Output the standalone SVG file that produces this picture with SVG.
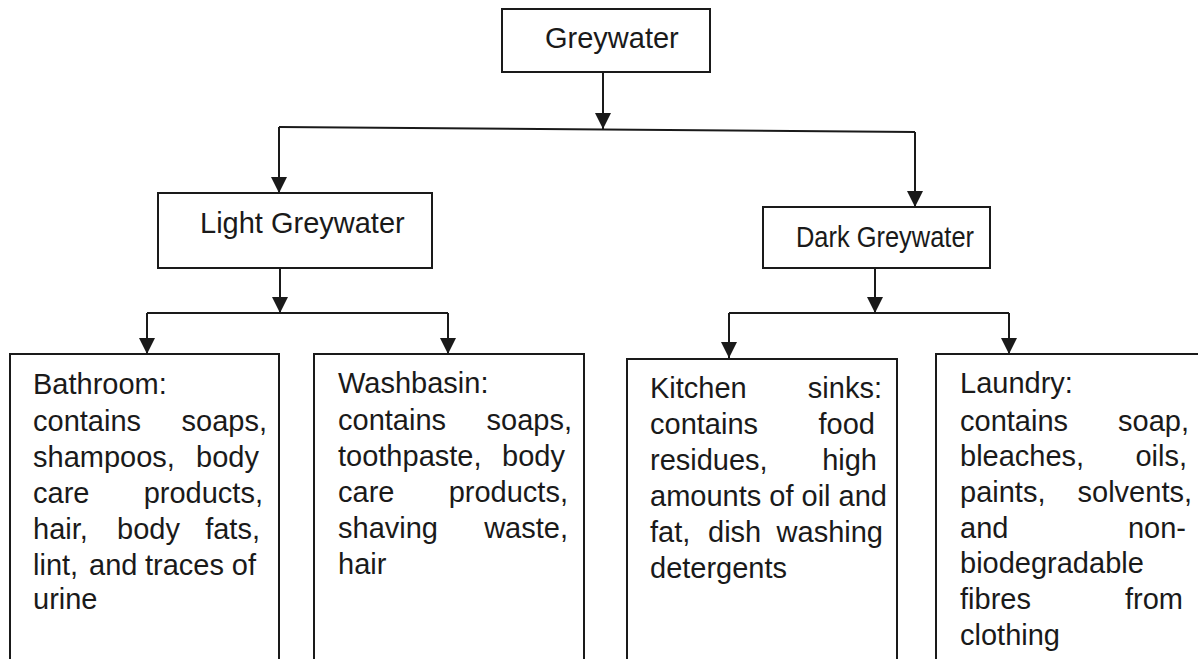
<svg xmlns="http://www.w3.org/2000/svg" width="1198" height="659" viewBox="0 0 1198 659">
  <style>
    .box { fill: #ffffff; stroke: #1a1a1a; stroke-width: 2; }
    .wire { fill: none; stroke: #1a1a1a; stroke-width: 2; }
    .arrow { fill: none; stroke: #1a1a1a; stroke-width: 2; marker-end: url(#head); }
    text { font-family: "Liberation Sans", Arial, sans-serif; font-size: 29px; fill: #1a1a1a; }
    .r { text-anchor: end; }
  </style>
  <defs>
    <marker id="head" markerUnits="userSpaceOnUse" markerWidth="16" markerHeight="16" viewBox="0 0 16 16" refX="16" refY="8" orient="auto">
      <path d="M0,0 L16,8 L0,16 z" fill="#1a1a1a"/>
    </marker>
  </defs>

  <rect width="1198" height="659" fill="#ffffff"/>

  <!-- connectors -->
  <g id="connectors">
    <path class="arrow" d="M603,72 V129"/>
    <path class="wire" d="M279,127 L915,132"/>
    <path class="arrow" d="M279,127 V193"/>
    <path class="arrow" d="M915,132 V207"/>

    <path class="arrow" d="M280,268 V313"/>
    <path class="wire" d="M147,313 H448"/>
    <path class="arrow" d="M147,313 V354"/>
    <path class="arrow" d="M448,313 V354"/>

    <path class="arrow" d="M875,268 V313"/>
    <path class="wire" d="M729,313 H1009"/>
    <path class="arrow" d="M729,313 V358"/>
    <path class="arrow" d="M1009,313 V354"/>
  </g>

  <!-- root -->
  <g id="greywater">
    <rect class="box" x="502" y="9" width="208" height="63"/>
    <text x="545" y="48">Greywater</text>
  </g>

  <!-- second level -->
  <g id="light-greywater">
    <rect class="box" x="158" y="193" width="274" height="75"/>
    <text x="200" y="233">Light Greywater</text>
  </g>
  <g id="dark-greywater">
    <rect class="box" x="763" y="207" width="227" height="61"/>
    <text x="796" y="247" textLength="178" lengthAdjust="spacingAndGlyphs">Dark Greywater</text>
  </g>

  <!-- sources -->
  <g id="bathroom">
    <rect class="box" x="10" y="354" width="269" height="340"/>
    <text x="33" y="394">Bathroom:</text>
    <text x="33" y="431">contains</text><text class="r" x="267" y="431">soaps,</text>
    <text x="33" y="467">shampoos,</text><text class="r" x="259" y="467">body</text>
    <text x="33" y="503">care</text><text class="r" x="263" y="503">products,</text>
    <text x="33" y="539">hair,</text><text x="117" y="539">body</text><text class="r" x="260" y="539">fats,</text>
    <text x="33" y="575">lint,</text><text x="89" y="575">and</text><text x="145" y="575">traces</text><text class="r" x="256" y="575">of</text>
    <text x="33" y="609">urine</text>
  </g>

  <g id="washbasin">
    <rect class="box" x="314" y="354" width="270" height="340"/>
    <text x="338" y="393">Washbasin:</text>
    <text x="338" y="430">contains</text><text class="r" x="572" y="430">soaps,</text>
    <text x="338" y="466">toothpaste,</text><text class="r" x="565" y="466">body</text>
    <text x="338" y="502">care</text><text class="r" x="568" y="502">products,</text>
    <text x="338" y="538">shaving</text><text class="r" x="568" y="538">waste,</text>
    <text x="338" y="574">hair</text>
  </g>

  <g id="kitchen">
    <rect class="box" x="627" y="359" width="270" height="340"/>
    <text x="650" y="398">Kitchen</text><text class="r" x="882" y="398">sinks:</text>
    <text x="650" y="434">contains</text><text class="r" x="875" y="434">food</text>
    <text x="650" y="470">residues,</text><text class="r" x="877" y="470">high</text>
    <text x="650" y="506">amounts of oil and</text>
    <text x="650" y="542">fat,</text><text x="708" y="542">dish</text><text class="r" x="883" y="542">washing</text>
    <text x="650" y="578">detergents</text>
  </g>

  <g id="laundry">
    <rect class="box" x="936" y="354" width="290" height="340"/>
    <text x="960" y="393">Laundry:</text>
    <text x="960" y="431">contains</text><text class="r" x="1189" y="431">soap,</text>
    <text x="960" y="466">bleaches,</text><text class="r" x="1187" y="466">oils,</text>
    <text x="960" y="502">paints,</text><text class="r" x="1192" y="502">solvents,</text>
    <text x="960" y="538">and</text><text class="r" x="1186" y="538">non-</text>
    <text x="960" y="573">biodegradable</text>
    <text x="960" y="609">fibres</text><text class="r" x="1183" y="609">from</text>
    <text x="960" y="645">clothing</text>
  </g>
</svg>
